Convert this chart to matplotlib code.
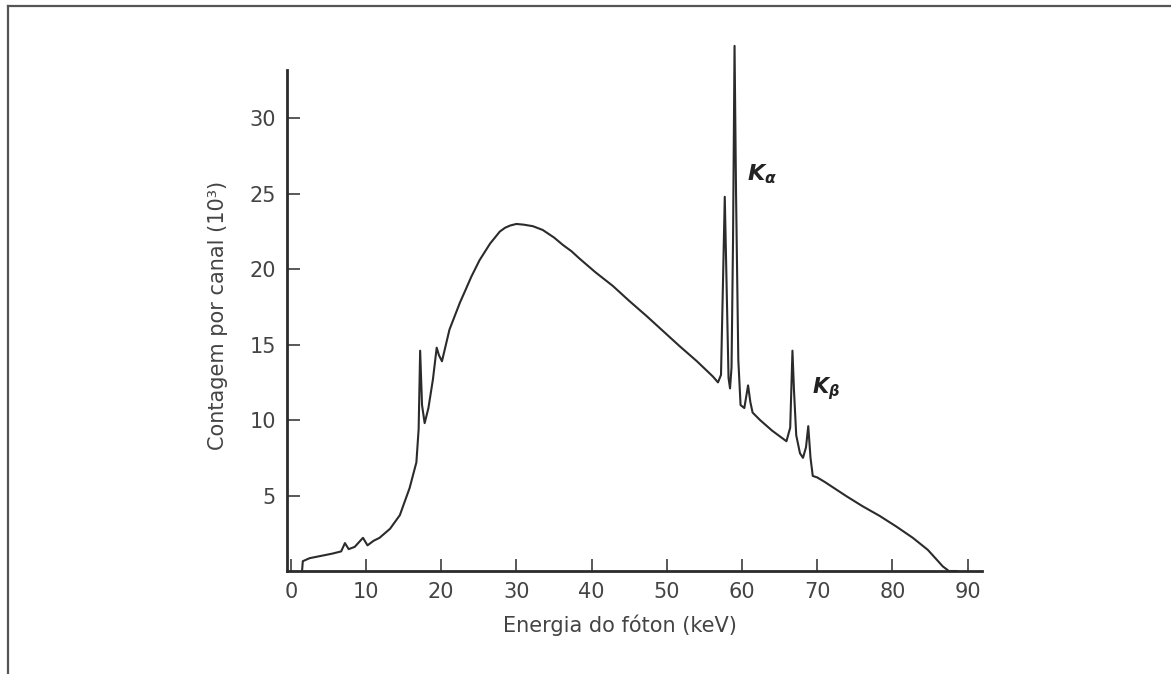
# -*- coding: utf-8 -*-
import matplotlib
matplotlib.use("Agg")
import matplotlib.pyplot as plt
from matplotlib.lines import Line2D

plt.rcParams['font.family'] = ['DejaVu Sans']
plt.rcParams['mathtext.fontset'] = 'custom'
plt.rcParams['mathtext.it'] = 'DejaVu Sans:italic:bold'
plt.rcParams['mathtext.rm'] = 'DejaVu Sans:bold'

# spectrum (energy in keV, counts in 10^3)
energy_kev = [
    1.5, 1.6, 2.5, 4.0, 5.5, 6.7, 7.2, 7.7, 8.5, 9.6,
    10.2, 11.0, 11.8, 13.2, 14.5, 15.8, 16.7, 17.0, 17.2, 17.45,
    17.8, 18.3, 18.9, 19.4, 19.7, 20.1, 21.1, 22.5, 23.3, 24.0,
    25.1, 26.5, 27.8, 28.5, 29.2, 30.0, 31.0, 32.2, 33.5, 35.0,
    36.2, 37.3, 38.4, 40.5, 42.8, 45.0, 47.3, 49.5, 51.7, 54.0,
    56.1, 56.8, 57.2, 57.5, 57.7, 57.9, 58.2, 58.4, 58.6, 58.8,
    59.0, 59.2, 59.5, 59.8, 60.3, 60.8, 61.1, 61.4, 62.4, 64.0,
    65.9, 66.4, 66.7, 66.9, 67.2, 67.7, 68.1, 68.5, 68.8, 69.1,
    69.4, 70.0, 71.0, 73.9, 76.0, 78.3, 80.5, 82.7, 84.7, 86.7,
    87.5, 88.5,
]
counts = [
    0.0, 0.65, 0.85, 1.0, 1.15, 1.3, 1.85, 1.45, 1.6, 2.2,
    1.7, 2.0, 2.2, 2.8, 3.7, 5.5, 7.2, 9.4, 14.6, 11.0,
    9.8, 10.8, 12.7, 14.8, 14.3, 13.9, 16.0, 17.8, 18.7, 19.5,
    20.6, 21.7, 22.5, 22.75, 22.9, 23.0, 22.95, 22.85, 22.6, 22.1,
    21.6, 21.2, 20.7, 19.8, 18.9, 17.9, 16.9, 15.9, 14.9, 13.9,
    12.9, 12.5, 13.0, 20.0, 24.8, 20.0, 12.8, 12.1, 13.5, 22.0,
    34.8, 25.0, 14.0, 11.0, 10.8, 12.3, 11.2, 10.5, 10.0, 9.3,
    8.6, 9.5, 14.6, 12.0, 9.0, 7.8, 7.5, 8.2, 9.6, 7.5,
    6.3, 6.2, 5.9, 4.95, 4.3, 3.65, 2.95, 2.2, 1.4, 0.3,
    0.0, 0.0,
]

x_ticks = [0, 10, 20, 30, 40, 50, 60, 70, 80, 90]
y_ticks = [5, 10, 15, 20, 25, 30]

ink = '#2b2b2b'
txt = '#444444'

fig = plt.figure(figsize=(11.71, 6.74), dpi=100)
ax = fig.add_axes([0.2451, 0.1528, 0.5935, 0.7433])

# the K-alpha peak goes above the top of the axis, so no clipping
ax.plot(energy_kev, counts, color=ink, lw=1.5, clip_on=False)

ax.set_xlim(-0.5, 91.9)
ax.set_ylim(0, 33.2)
ax.set_xticks(x_ticks)
ax.set_yticks(y_ticks)

for s in ['top', 'right']:
    ax.spines[s].set_visible(False)
for s in ['left', 'bottom']:
    ax.spines[s].set_linewidth(2.0)
    ax.spines[s].set_color(ink)

ax.tick_params(direction='in', length=9, width=1.1, color=ink,
               labelsize=15, labelcolor=txt, pad=8)

# peak labels
ax.text(60.7, 25.9, r'$K_\alpha$', fontsize=16, color='#222222', va='baseline')
ax.text(69.3, 11.8, r'$K_\beta$', fontsize=15, color='#222222', va='baseline')

fig.text(0.1862, 0.5326, 'Contagem por canal (10³)', rotation=90,
         ha='center', va='center', fontsize=15, color=txt)
fig.text(0.5295, 0.0727, 'Energia do fóton (keV)', ha='center', va='center',
         fontsize=15, color=txt)

# outer frame (top and left edges only)
fig.add_artist(Line2D([0.0068, 1.0], [0.991, 0.991], transform=fig.transFigure,
                      color='#555555', lw=1.6))
fig.add_artist(Line2D([0.0068, 0.0068], [0.0, 0.991], transform=fig.transFigure,
                      color='#555555', lw=1.6))

fig.savefig('out.png', dpi=100)
